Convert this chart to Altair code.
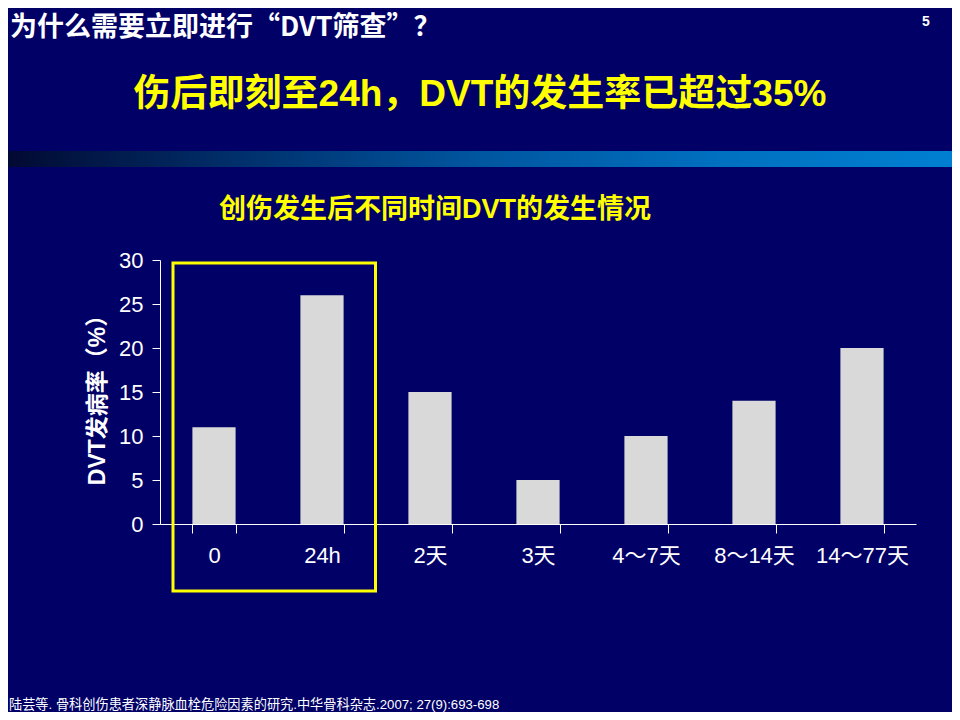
import altair as alt
import pandas as pd

# ---- data ----
categories = ["0", "24h", "2天", "3天", "4～7天", "8～14天", "14～77天"]
rates = [11, 26, 15, 5, 10, 14, 20]
y_ticks = [0, 5, 10, 15, 20, 25, 30]

header_text = "为什么需要立即进行“DVT筛查”？"
page_no = "5"
title_text = "伤后即刻至24h，DVT的发生率已超过35%"
subtitle_text = "创伤发生后不同时间DVT的发生情况"
y_title = "DVT发病率（%）"
footnote = "陆芸等. 骨科创伤患者深静脉血栓危险因素的研究.中华骨科杂志.2007; 27(9):693-698"

FONT = "Liberation Sans, Noto Sans CJK SC"
CJK_FIRST = "Noto Sans CJK SC, Liberation Sans"
BG = "#000066"
YELLOW = "#ffff00"

df = pd.DataFrame({"cat": categories, "rate": rates})

bars = alt.Chart(df).mark_bar(color="#d9d9d9").encode(
    x=alt.X(
        "cat:N",
        sort=categories,
        scale=alt.Scale(paddingInner=0.6, paddingOuter=0.3),
        axis=alt.Axis(
            title=None,
            labelAngle=0,
            tickBand="extent",
            domainColor="white",
            tickColor="white",
            labelColor="white",
            labelFont=FONT,
            labelFontSize=22,
            tickSize=9,
            labelPadding=12,
            labelBaseline="top",
        ),
    ),
    y=alt.Y(
        "rate:Q",
        scale=alt.Scale(domain=[0, 30], nice=False),
        axis=alt.Axis(
            values=y_ticks,
            title=y_title,
            titleFont=FONT,
            titleFontSize=23,
            titleFontWeight="bold",
            titleColor="white",
            titleAngle=-90,
            titleAlign="center",
            titleBaseline="middle",
            titleX=-63,
            titleY=134,
            grid=False,
            domainColor="white",
            tickColor="white",
            labelColor="white",
            labelFont=FONT,
            labelFontSize=22,
            tickSize=8,
            labelPadding=9,
        ),
    ),
)

one = pd.DataFrame({"k": [0]})

band = alt.Chart(one).mark_rect(
    color={
        "gradient": "linear",
        "x1": 0, "x2": 1, "y1": 0, "y2": 0,
        "stops": [
            {"offset": 0.0, "color": "#020830"},
            {"offset": 0.25, "color": "#00306c"},
            {"offset": 0.5, "color": "#0056a0"},
            {"offset": 0.75, "color": "#0070c0"},
            {"offset": 1.0, "color": "#0080d2"},
        ],
    }
).encode(x=alt.value(-160), x2=alt.value(800), y=alt.value(-109), y2=alt.value(-93))


def txt(text, x, y, size, color, weight="bold", align="left", baseline="middle", font=FONT):
    d = pd.DataFrame({"t": [text]})
    return alt.Chart(d).mark_text(
        font=font, fontSize=size, fontWeight=weight, color=color,
        align=align, baseline=baseline,
    ).encode(text="t:N", x=alt.value(x), y=alt.value(y))


header = txt(header_text, 10 - 160, 28 - 260, 27, "white", font=CJK_FIRST)
pno = txt(page_no, 926 - 160, 22 - 260, 14, "white", align="center")
title = txt(title_text, 480 - 160, 95 - 260, 37, YELLOW, align="center")
subtitle = txt(subtitle_text, 435 - 160, 210 - 260, 27, YELLOW, align="center")
foot = txt(footnote, 9 - 160, 705 - 260, 13.2, "white", weight="normal")

box = alt.Chart(one).mark_rect(
    filled=False, stroke=YELLOW, strokeWidth=3
).encode(x=alt.value(13), x2=alt.value(215.5), y=alt.value(3), y2=alt.value(331))

chart = alt.layer(band, header, pno, title, subtitle, foot, bars, box).properties(
    width=756,
    height=264,
    autosize=alt.AutoSizeParams(type="none"),
    padding={"left": 152, "top": 252, "right": 36, "bottom": 188},
    background=BG,
).configure_view(stroke=None)

chart.save("out.html", embed_options={"renderer": "svg", "actions": False})
